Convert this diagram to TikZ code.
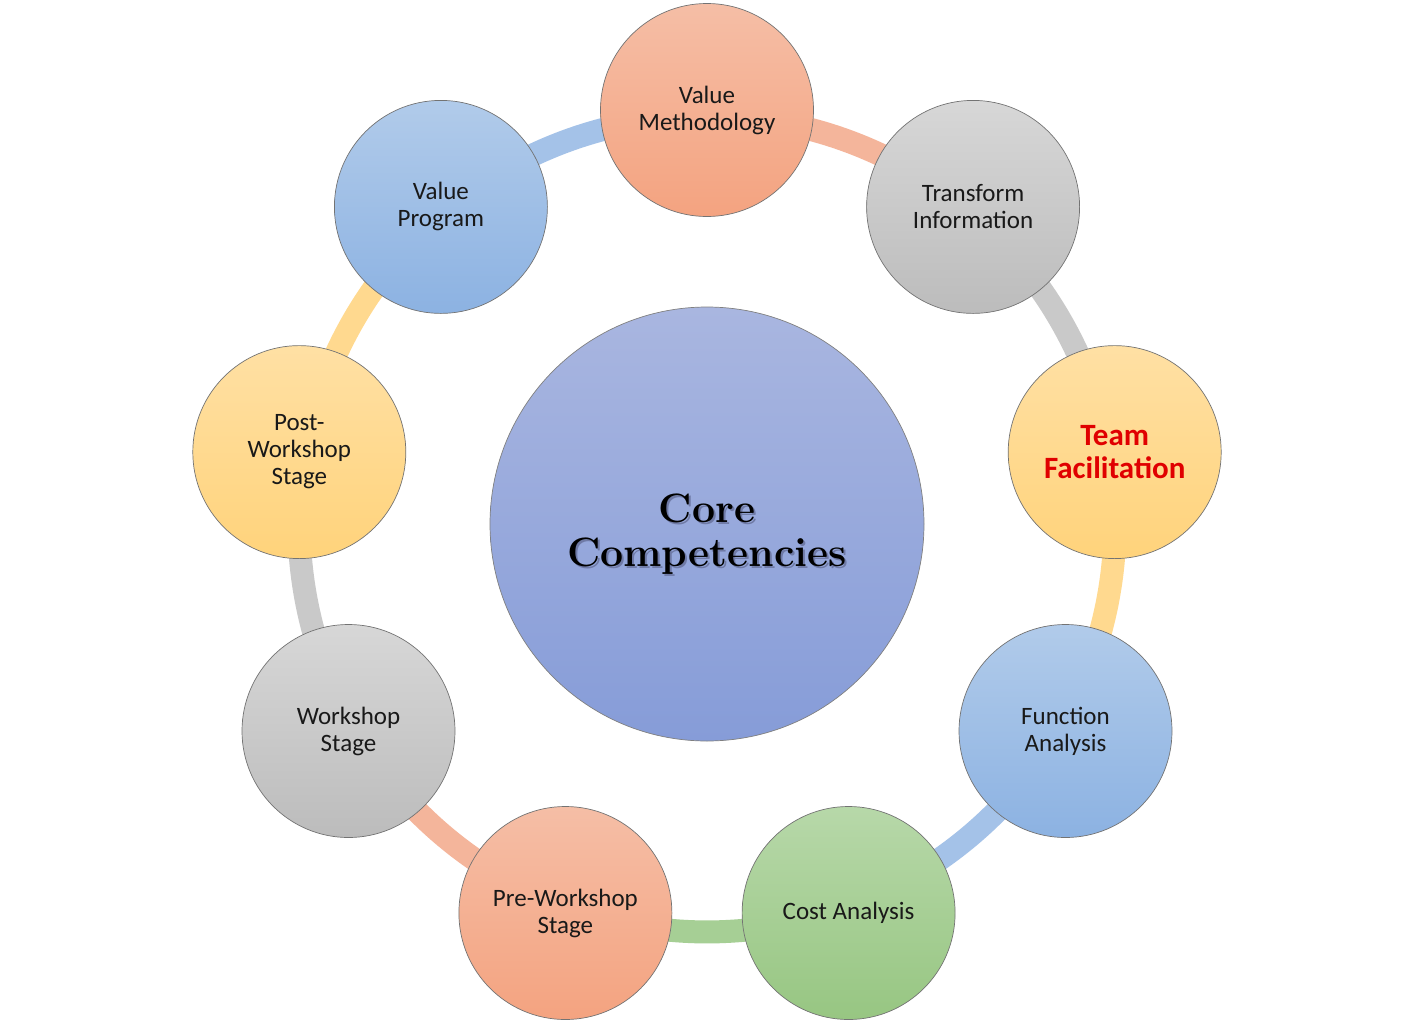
\documentclass[tikz,border=0pt]{standalone}
\usepackage{fontspec}
\newfontfamily\carl{Carlito}
\usetikzlibrary{calc}
\pgfdeclarelayer{bgl}
\pgfdeclarelayer{ringl}
\pgfsetlayers{bgl,ringl,main}
\definecolor{salT}{HTML}{F5BEA6}
\definecolor{salB}{HTML}{F4A380}
\definecolor{gryT}{HTML}{D7D7D7}
\definecolor{gryB}{HTML}{BCBCBC}
\definecolor{ylwT}{HTML}{FFE0A4}
\definecolor{ylwB}{HTML}{FFD37B}
\definecolor{bluT}{HTML}{B1CBEA}
\definecolor{bluB}{HTML}{8CB2E2}
\definecolor{grnT}{HTML}{B7D8A9}
\definecolor{grnB}{HTML}{97C682}
\definecolor{corT}{HTML}{A9B6E0}
\definecolor{corB}{HTML}{869CD8}
\definecolor{salR}{HTML}{F4B59B}
\definecolor{gryR}{HTML}{C9C9C9}
\definecolor{ylwR}{HTML}{FFD98F}
\definecolor{bluR}{HTML}{A4C2E8}
\definecolor{grnR}{HTML}{A6CF95}
\definecolor{shadowc}{HTML}{6F7AA6}
\definecolor{teamred}{HTML}{E00000}
\newcommand\shd[1]{\makebox[0pt][l]{\kern2pt\raisebox{-2pt}{\textcolor{shadowc}{#1}}}#1}
\begin{document}
\begin{tikzpicture}[x=1pt,y=-1pt,
  small/.style={circle, minimum size=213pt, inner sep=0pt, draw=black!55, line width=0.7pt,
    align=center, font=\carl\fontsize{25}{27}\selectfont, text=black!90},
  sal/.style={small, top color=salT, bottom color=salB},
  gry/.style={small, top color=gryT, bottom color=gryB},
  ylw/.style={small, top color=ylwT, bottom color=ylwB},
  blu/.style={small, top color=bluT, bottom color=bluB},
  grn/.style={small, top color=grnT, bottom color=grnB},
  core/.style={circle, minimum size=434pt, inner sep=0pt, draw=black!50, line width=0.7pt,
    top color=corT, bottom color=corB, align=center,
    font=\bfseries\fontsize{41}{44}\selectfont},
  ringarc/.style={line width=23pt, bend left=20, looseness=0.88}
]
\begin{pgfonlayer}{bgl}
\fill[white] (0,0) rectangle (1414,1023);
\end{pgfonlayer}
\useasboundingbox (0,0) rectangle (1414,1023);

\node[core] (core) at (707,524) {\rule{0pt}{50pt}\shd{Core}\\\shd{Competencies}};

\node[sal] (vm)  at (707,110)     {Value\\Methodology};
\node[gry] (ti)  at (973.1,206.9) {Transform\\Information};
\node[ylw, font=\carl\bfseries\fontsize{31}{33}\selectfont, text=teamred] (tf) at (1114.7,452.1) {Team\\Facilitation};
\node[blu] (fa)  at (1065.5,731)  {Function\\Analysis};
\node[grn] (ca)  at (848.6,913)   {Cost Analysis};
\node[sal] (pw)  at (565.4,913)   {Pre-Workshop\\Stage};
\node[gry] (ws)  at (348.5,731)   {Workshop\\Stage};
\node[ylw] (pow) at (299.3,452.1) {Post-\\Workshop\\Stage};
\node[blu] (vp)  at (440.9,206.9) {Value\\Program};

\begin{pgfonlayer}{ringl}
\draw[ringarc, draw=salR] ($(vm)!6pt!(core)$)  to ($(ti)!6pt!(core)$);
\draw[ringarc, draw=gryR] ($(ti)!6pt!(core)$)  to ($(tf)!6pt!(core)$);
\draw[ringarc, draw=ylwR] ($(tf)!6pt!(core)$)  to ($(fa)!6pt!(core)$);
\draw[ringarc, draw=bluR] ($(fa)!6pt!(core)$)  to ($(ca)!6pt!(core)$);
\draw[ringarc, draw=grnR] ($(ca)!6pt!(core)$)  to ($(pw)!6pt!(core)$);
\draw[ringarc, draw=salR] ($(pw)!6pt!(core)$)  to ($(ws)!6pt!(core)$);
\draw[ringarc, draw=gryR] ($(ws)!6pt!(core)$)  to ($(pow)!6pt!(core)$);
\draw[ringarc, draw=ylwR] ($(pow)!6pt!(core)$) to ($(vp)!6pt!(core)$);
\draw[ringarc, draw=bluR] ($(vp)!6pt!(core)$)  to ($(vm)!6pt!(core)$);
\end{pgfonlayer}
\end{tikzpicture}
\end{document}
